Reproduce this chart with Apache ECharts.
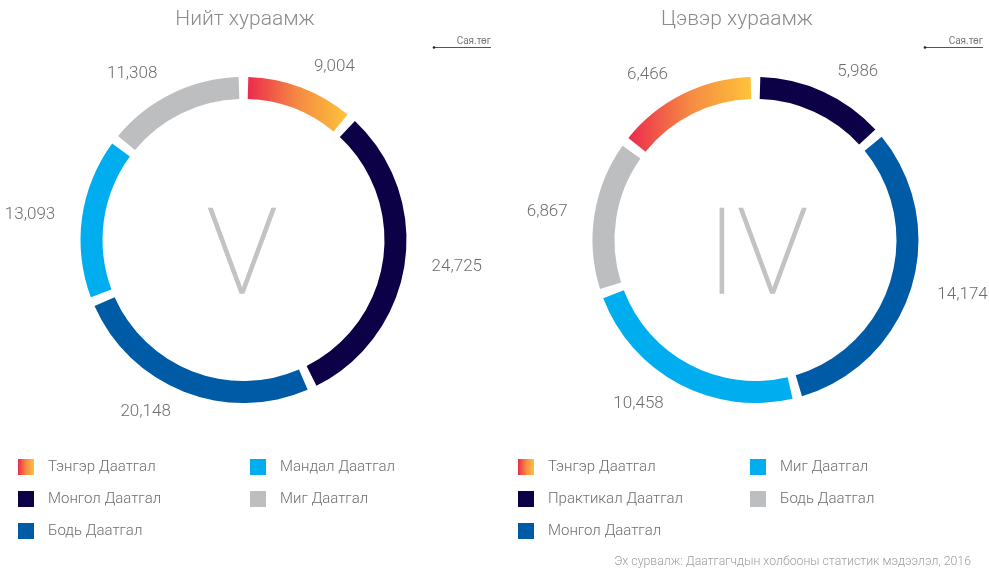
<!DOCTYPE html>
<html>
<head>
<meta charset="utf-8">
<title>Нийт хураамж / Цэвэр хураамж</title>
<script src="https://cdn.jsdelivr.net/npm/echarts@6/dist/echarts.min.js"></script>
<style>
  html, body { margin: 0; padding: 0; background: #fff; }
  #chart { width: 989px; height: 570px; }
</style>
</head>
<body>
<div id="chart"></div>
<script>
// data (сая төгрөг)
const grossTitle = 'Нийт хураамж';
const grossNames = ['Тэнгэр Даатгал', 'Монгол Даатгал', 'Бодь Даатгал', 'Мандал Даатгал', 'Миг Даатгал'];
const grossValues = [9004, 24725, 20148, 13093, 11308];

const netTitle = 'Цэвэр хураамж';
const netNames = ['Тэнгэр Даатгал', 'Практикал Даатгал', 'Монгол Даатгал', 'Миг Даатгал', 'Бодь Даатгал'];
const netValues = [6466, 5986, 14174, 10458, 6867];

const rankLabels = ['V', 'IV'];
const unitLabel = 'Сая.төг';
const sourceNote = 'Эх сурвалж: Даатгагчдын холбооны статистик мэдээлэл, 2016';

const FONT = 'Roboto, "Noto Sans", sans-serif';
const TEXT = '#6d6e71';
const gradient = new echarts.graphic.LinearGradient(0, 0, 1, 0, [
	{ offset: 0, color: '#ec2a4c' },
	{ offset: 0.5, color: '#f58a43' },
	{ offset: 1, color: '#fec33a' },
]);
// colours go by slice position, not by company
const palette = [gradient, '#0c0047', '#005ba6', '#00aeef', '#bcbec0'];

const PAD = 3.4;
const RING = [141, 163];

// names get a side key so the two legends don't mix colours
const key = (side, name) => side + '|' + name;
const plain = (name) => name.split('|').pop();

const sum = (arr) => arr.reduce((a, b) => a + b, 0);

const buildRing = (side, names, values, center, startAngle) => ({
	type: 'pie',
	center: center,
	radius: RING,
	startAngle: startAngle,
	clockwise: true,
	padAngle: PAD,
	avoidLabelOverlap: false,
	silent: true,
	label: {
		show: true,
		position: 'outside',
		color: TEXT,
		fontFamily: FONT,
		fontWeight: 300,
		fontSize: 17,
		formatter: (p) => p.value.toLocaleString('en-US'),
	},
	labelLine: { show: false, length: 22, length2: 0 },
	data: names.map((n, i) => ({
		name: key(side, n),
		value: values[i],
		itemStyle: { color: palette[i] },
	})),
});

const legendCol = (side, names, left) => ({
	orient: 'vertical',
	left: left,
	top: 459,
	padding: 0,
	itemWidth: 16,
	itemHeight: 16,
	itemGap: 16,
	icon: 'rect',
	selectedMode: false,
	data: names.map((n) => key(side, n)),
	formatter: plain,
	textStyle: { color: TEXT, fontSize: 15, fontFamily: FONT, fontWeight: 300, padding: [0, 0, 0, 9] },
});

const unitMark = (x1, x2) => [
	{
		type: 'line',
		shape: { x1: x1, y1: 47.5, x2: x2, y2: 47.5 },
		style: { stroke: '#555', lineWidth: 1 },
	},
	{ type: 'circle', shape: { cx: x1, cy: 47.5, r: 1.3 }, style: { fill: '#222' } },
	{
		type: 'text',
		x: x2,
		y: 41,
		style: { text: unitLabel, align: 'right', verticalAlign: 'middle', fontSize: 10, fill: '#777', fontFamily: FONT },
	},
];

const heading = (text, x) => ({
	type: 'text',
	x: x,
	y: 20,
	style: { text: text, align: 'center', verticalAlign: 'middle', fontSize: 21, fill: '#8a8b8d', fontFamily: FONT, fontWeight: 300 },
});

const numeral = (text, x) => ({
	type: 'text',
	x: x,
	y: 263,
	style: {
		text: text, align: 'center', verticalAlign: 'middle',
		fontSize: 118, fill: '#c2c3c5', fontFamily: FONT, fontWeight: 100,
		stroke: '#c2c3c5', lineWidth: 1.4,
	},
});

const chart = echarts.init(document.getElementById('chart'), null, { renderer: 'canvas' });

// net pie: first slice (Тэнгэр) ends at 12 o'clock
const netStart = 90 + (360 * netValues[0]) / sum(netValues);

const option = {
	backgroundColor: '#fff',
	animation: false,
	legend: [
		legendCol('L', grossNames.slice(0, 3), 18),
		legendCol('L', grossNames.slice(3), 250),
		legendCol('R', netNames.slice(0, 3), 518),
		legendCol('R', netNames.slice(3), 750),
	],
	series: [
		buildRing('L', grossNames, grossValues, [243.5, 240], 90),
		buildRing('R', netNames, netValues, [755.5, 240], netStart),
	],
	graphic: [
		heading(grossTitle, 245),
		heading(netTitle, 737),
		numeral(rankLabels[0], 242),
		numeral(rankLabels[1], 757),
		...unitMark(434, 491),
		...unitMark(925, 983),
		{
			type: 'text',
			right: 18,
			bottom: 2,
			style: { text: sourceNote, fontSize: 12.3, fill: '#9d9ea0', fontFamily: FONT, fontWeight: 300 },
		},
	],
};

chart.setOption(option);
</script>
</body>
</html>
